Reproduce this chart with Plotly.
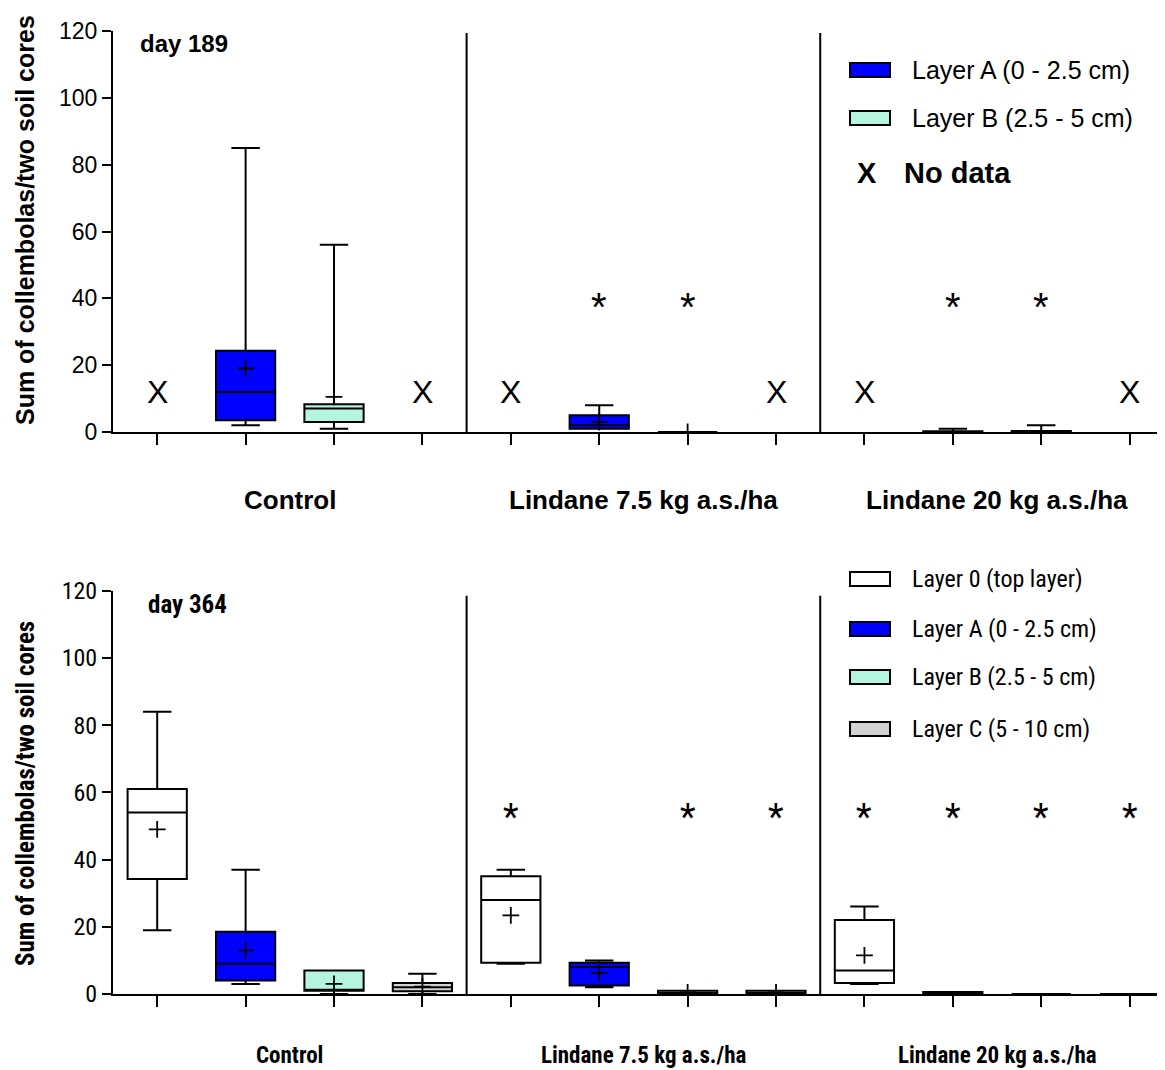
import plotly.graph_objects as go

# ---------------- data ----------------
GROUPS = ["Control", "Lindane 7.5 kg a.s./ha", "Lindane 20 kg a.s./ha"]
GROUP_CENTERS = [1.5, 5.5, 9.5]
POSITIONS = list(range(12))

# day 189 (top panel)
d189_A_pos = [1, 5, 9]
d189_A_min = [2, 1, 0]
d189_A_q1 = [3.5, 1, 0]
d189_A_med = [12, 2, 0]
d189_A_q3 = [24.3, 5, 0.25]
d189_A_max = [85, 8, 1]
d189_A_mean = [19, 3, None]

d189_B_pos = [2, 6, 10]
d189_B_min = [1, 0, 0]
d189_B_q1 = [3, 0, 0]
d189_B_med = [7, 0, 0]
d189_B_q3 = [8.3, 0, 0.3]
d189_B_max = [56, 0, 2]
d189_B_mean = [10.5, 0, None]

d189_nodata = [0, 3, 4, 7, 8, 11]
d189_signif = [5, 6, 9, 10]

# day 364 (bottom panel)
d364_0_pos = [0, 4, 8]
d364_0_min = [19, 9, 3]
d364_0_q1 = [34.2, 9.3, 3.3]
d364_0_med = [54, 28, 7]
d364_0_q3 = [61, 35, 22]
d364_0_max = [84, 37, 26]
d364_0_mean = [49, 23.4, 11.5]

d364_A_pos = [1, 5, 9]
d364_A_min = [3, 2, 0]
d364_A_q1 = [4, 2.5, 0]
d364_A_med = [9, 8, 0]
d364_A_q3 = [18.5, 9.3, 0.6]
d364_A_max = [37, 10, 0.6]
d364_A_mean = [13, 6.3, None]

d364_B_pos = [2, 6, 10]
d364_B_min = [0, 0, 0]
d364_B_q1 = [1, 0, 0]
d364_B_med = [1.3, 0, 0]
d364_B_q3 = [7, 1, 0]
d364_B_max = [7, 1, 0]
d364_B_mean = [3, 0.5, None]

d364_C_pos = [3, 7, 11]
d364_C_min = [0, 0, 0]
d364_C_q1 = [0.8, 0, 0]
d364_C_med = [2, 0, 0]
d364_C_q3 = [3.3, 1, 0]
d364_C_max = [6, 1, 0]
d364_C_mean = [2.2, 0.5, None]

d364_signif = [4, 6, 7, 8, 9, 10, 11]

NO_DATA_LEVEL = 12
SIG_LEVEL_189 = 40
SIG_LEVEL_364 = 55

LEG_189 = ["Layer A (0 - 2.5 cm)", "Layer B (2.5 - 5 cm)"]
LEG_364 = ["Layer 0 (top layer)", "Layer A (0 - 2.5 cm)", "Layer B (2.5 - 5 cm)", "Layer C (5 - 10 cm)"]
YTITLE = "Sum of collembolas/two soil cores"

# ---------------- styles ----------------
C_WHITE = "#ffffff"
C_BLUE = "#0000ff"
C_AQUA = "#b5f5df"
C_GREY = "#d3d3d3"

F_TOP = "Liberation Sans, Arial, sans-serif"
F_BOT = "Roboto Condensed, Noto Sans Condensed, DejaVu Sans Condensed, sans-serif"

OFF = 8  # page body margin
W, H = 1165 - OFF, 1070 - OFF
ML, MR, MT, MB = 113 - OFF, 0, 31 - OFF, 76
PW = W - ML - MR
PH = H - MT - MB


def px_x(px):
    return (px - OFF - ML) / PW


def px_y(py):
    return (H + OFF - MB - py) / PH


fig = go.Figure()


def add_boxes(pos, mn, q1, med, q3, mx, mean, color, xa, ya):
    fig.add_trace(go.Box(
        x=pos, lowerfence=mn, q1=q1, median=med, q3=q3, upperfence=mx,
        xaxis=xa, yaxis=ya, width=0.67, whiskerwidth=0.48,
        fillcolor=color, line=dict(color="black", width=2),
        boxpoints=False, showlegend=False, hoverinfo="skip"))
    mx_ = [p for p, m in zip(pos, mean) if m is not None]
    my_ = [m for m in mean if m is not None]
    fig.add_trace(go.Scatter(
        x=mx_, y=my_, mode="markers", xaxis=xa, yaxis=ya,
        marker=dict(symbol="cross-thin", size=12, line=dict(color="black", width=1.8)),
        showlegend=False, hoverinfo="skip"))


add_boxes(d189_A_pos, d189_A_min, d189_A_q1, d189_A_med, d189_A_q3, d189_A_max, d189_A_mean, C_BLUE, "x", "y")
add_boxes(d189_B_pos, d189_B_min, d189_B_q1, d189_B_med, d189_B_q3, d189_B_max, d189_B_mean, C_AQUA, "x", "y")

add_boxes(d364_0_pos, d364_0_min, d364_0_q1, d364_0_med, d364_0_q3, d364_0_max, d364_0_mean, C_WHITE, "x2", "y2")
add_boxes(d364_A_pos, d364_A_min, d364_A_q1, d364_A_med, d364_A_q3, d364_A_max, d364_A_mean, C_BLUE, "x2", "y2")
add_boxes(d364_B_pos, d364_B_min, d364_B_q1, d364_B_med, d364_B_q3, d364_B_max, d364_B_mean, C_AQUA, "x2", "y2")
add_boxes(d364_C_pos, d364_C_min, d364_C_q1, d364_C_med, d364_C_q3, d364_C_max, d364_C_mean, C_GREY, "x2", "y2")

annotations = []
shapes = []


def ann(**kw):
    kw.setdefault("showarrow", False)
    kw.setdefault("xanchor", "center")
    kw.setdefault("yanchor", "middle")
    kw.setdefault("borderpad", 0)
    annotations.append(kw)


# no-data X markers and significance asterisks
for p in d189_nodata:
    ann(x=p, y=NO_DATA_LEVEL, xref="x", yref="y", text="X",
        font=dict(family=F_TOP, size=32, color="black"))
for p in d189_signif:
    ann(x=p, y=SIG_LEVEL_189, xref="x", yref="y", text="*", yshift=-9,
        font=dict(family=F_TOP, size=40, color="black"))
for p in d364_signif:
    ann(x=p, y=SIG_LEVEL_364, xref="x2", yref="y2", text="*", yshift=-8,
        font=dict(family=F_BOT, size=36, color="black"))

# group separators
for xa, ya, top in [("x", "y", 119.4), ("x2", "y2", 118.5)]:
    for sep in [3.5, 7.5]:
        shapes.append(dict(type="line", xref=xa, yref=ya, x0=sep, x1=sep, y0=0, y1=top,
                           line=dict(color="black", width=2)))

# group labels
for c, g in zip(GROUP_CENTERS, GROUPS):
    ann(x=c, y=px_y(500), xref="x", yref="paper", text="<b>%s</b>" % g,
        font=dict(family=F_TOP, size=26, color="black"))
    ann(x=c, y=px_y(1055), xref="x2", yref="paper", text="<b>%s</b>" % g,
        font=dict(family=F_BOT, size=23, color="black"))

# day labels
ann(x=px_x(139), y=px_y(44), xref="paper", yref="paper", text="<b>day 189</b>", xanchor="left",
    font=dict(family=F_TOP, size=24, color="black"))
ann(x=px_x(147), y=px_y(604), xref="paper", yref="paper", text="<b>day 364</b>", xanchor="left",
    font=dict(family=F_BOT, size=25, color="black"))

# y titles
ann(x=px_x(25), y=px_y(220), xref="paper", yref="paper", text="<b>%s</b>" % YTITLE,
    textangle=-90, font=dict(family=F_TOP, size=25, color="black"))
ann(x=px_x(25), y=px_y(794), xref="paper", yref="paper", text="<b>%s</b>" % YTITLE,
    textangle=-90, font=dict(family=F_BOT, size=25, color="black"))

# legends (manual)
for lab, col, yc in zip(LEG_189, [C_BLUE, C_AQUA], [70, 118]):
    shapes.append(dict(type="rect", xref="paper", yref="paper", x0=px_x(850), x1=px_x(890),
                       y0=px_y(yc + 7), y1=px_y(yc - 7), fillcolor=col, line=dict(color="black", width=2)))
    ann(x=px_x(911), y=px_y(yc), xref="paper", yref="paper", text=lab, xanchor="left",
        font=dict(family=F_TOP, size=25, color="black"))
ann(x=px_x(867), y=px_y(173), xref="paper", yref="paper", text="<b>X</b>",
    font=dict(family=F_TOP, size=29, color="black"))
ann(x=px_x(903), y=px_y(173), xref="paper", yref="paper", text="<b>No data</b>", xanchor="left",
    font=dict(family=F_TOP, size=29, color="black"))

for lab, col, yc in zip(LEG_364, [C_WHITE, C_BLUE, C_AQUA, C_GREY], [579, 629, 677, 729]):
    shapes.append(dict(type="rect", xref="paper", yref="paper", x0=px_x(850), x1=px_x(890),
                       y0=px_y(yc + 7), y1=px_y(yc - 7), fillcolor=col, line=dict(color="black", width=2)))
    ann(x=px_x(911), y=px_y(yc), xref="paper", yref="paper", text=lab, xanchor="left",
        font=dict(family=F_BOT, size=24, color="black"))

xcommon = dict(range=[-0.5, 11.4], tickmode="array", tickvals=POSITIONS, showticklabels=False,
               ticks="outside", ticklen=11, tickwidth=2, tickcolor="black", showline=True,
               linewidth=2, linecolor="black", showgrid=False, zeroline=False, automargin=False)
ycommon = dict(range=[0, 120], tickmode="array", tickvals=[0, 20, 40, 60, 80, 100, 120],
               ticks="outside", ticklen=9, tickwidth=2, tickcolor="black", showline=True,
               linewidth=2, linecolor="black", showgrid=False, zeroline=False, automargin=False)

fig.update_layout(
    width=W, height=H,
    margin=dict(l=ML, r=MR, t=MT, b=MB),
    paper_bgcolor="white", plot_bgcolor="white",
    boxmode="overlay", showlegend=False,
    xaxis=dict(domain=[0, 1], anchor="y", **xcommon),
    yaxis=dict(domain=[px_y(432), 1], anchor="x",
               tickfont=dict(family=F_TOP, size=23, color="black"), **ycommon),
    xaxis2=dict(domain=[0, 1], anchor="y2", **xcommon),
    yaxis2=dict(domain=[0, px_y(590.7)], anchor="x2",
                tickfont=dict(family=F_BOT, size=24, color="black"), **ycommon),
    annotations=annotations,
    shapes=shapes,
)

fig.write_html("out.html")
